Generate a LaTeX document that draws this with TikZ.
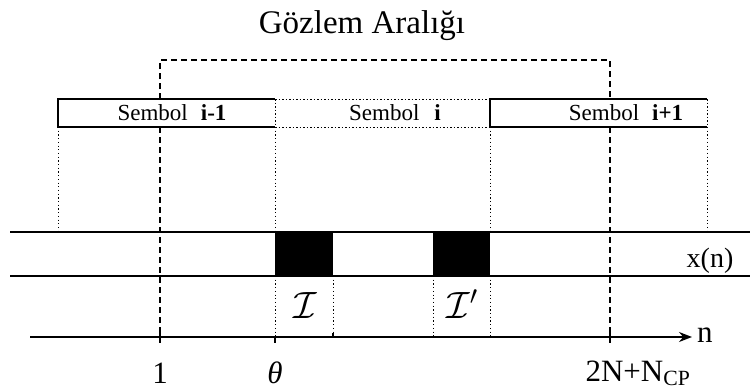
\RequirePackage{fix-cm}
\documentclass[tikz,border=0pt]{standalone}
\usepackage{fontspec}
\setmainfont{Liberation Serif}
\usetikzlibrary{arrows.meta}
\begin{document}
\begin{tikzpicture}[x=1pt,y=-1pt,
  every node/.style={inner sep=0pt, outer sep=0pt},
  bracketline/.style={line width=1.6pt, dash pattern=on 6pt off 4pt},
  boxline/.style={line width=1.2pt},
  boxdots/.style={line width=0.9pt, dash pattern=on 1.5pt off 2pt},
  guide/.style={line width=0.8pt, dash pattern=on 1.2pt off 2.5pt},
  bandline/.style={line width=2.2pt},
  burst/.style={fill=black},
  axisline/.style={line width=1.5pt, -{Stealth[length=13pt,width=10pt]}},
  tickmark/.style={line width=2pt},
  titletext/.style={font=\fontsize{33}{36}\selectfont},
  symtext/.style={font=\fontsize{23}{25}\selectfont},
  axtext/.style={font=\fontsize{31}{34}\selectfont},
  calltext/.style={font=\fontsize{38}{40}\selectfont},
]
\useasboundingbox (0,0) rectangle (750,391);

% key positions on the time axis
\coordinate (nA) at (160,337);
\coordinate (nT) at (275,337);
\coordinate (nB) at (610,337);
\coordinate (axL) at (30,337);
\coordinate (axR) at (692,337);

% received signal band x(n) with its two interference bursts
\fill[burst] (275,232) rectangle (333,276);
\fill[burst] (433,232) rectangle (490,276);
\draw[bandline] (10,232) -- (750,232);
\draw[bandline] (10,276) -- (750,276);

% symbol boxes
\draw[boxline] (275,99) -- (58,99) -- (58,127) -- (275,127);
\draw[boxdots] (275,99) -- (275,127);
\draw[boxdots] (275,99) -- (490,99);
\draw[boxdots] (275,127) -- (490,127);
\draw[boxline] (707,99) -- (490,99) -- (490,127) -- (707,127);
\draw[boxdots] (707,99) -- (707,127);

\node[symtext, anchor=base] (symA) at (172,120) {Sembol\hspace{13pt}\textbf{i-1}};
\node[symtext, anchor=base] (symB) at (395,120) {Sembol\hspace{15pt}\textbf{i}};
\node[symtext, anchor=base] (symC) at (626,120) {Sembol\hspace{13pt}\textbf{i+1}};

% symbol borders projected onto the band
\foreach \x in {58,275,490,707}
  \draw[guide] (\x,127) -- (\x,232);
% burst edges projected onto the axis
\foreach \x in {275,333,433,490}
  \draw[guide] (\x,276) -- (\x,337);

% observation interval (interrupted by the symbol row)
\draw[bracketline] (160,99) -- (160,60) -- (610,60) -- (610,99);
\draw[bracketline] (160,127) -- (nA);
\draw[bracketline] (610,127) -- (nB);
\node[titletext, anchor=base] (title) at (362,33) {Gözlem Aralığı};

% time axis
\draw[axisline] (axL) -- (axR);
\draw[tickmark] (160,331) -- (160,343);
\draw[tickmark] (610,331) -- (610,343);
\draw[tickmark] (275,337) -- (275,343);
\draw[tickmark] (333,333) -- (333,337);

\node[axtext, anchor=base west] (nlab) at (697,342) {n};
\node[font=\fontsize{28}{30}\selectfont, anchor=base] (xlab) at (710,267) {x(n)};
\node[axtext, anchor=base] (one) at (160,383) {1};
\node[axtext, anchor=base] (theta) at (275,383) {\textit{θ}};
\node[axtext, anchor=base] (last) at (638,381) {2N+N\textsubscript{CP}};
\node[calltext, anchor=base] (iA) at (305,318) {$\mathcal{I}$};
\node[calltext, anchor=base] (iB) at (462,318) {$\mathcal{I}'$};
\end{tikzpicture}
\end{document}
